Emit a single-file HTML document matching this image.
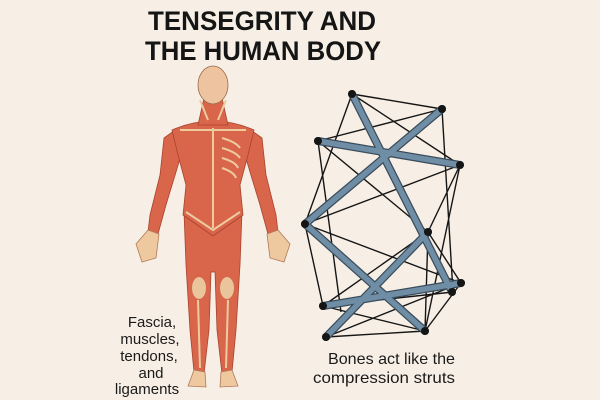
<!DOCTYPE html>
<html><head><meta charset="utf-8"><style>
html,body{margin:0;padding:0;background:#f7efe5;}
svg{display:block}
</style></head><body>
<svg width="600" height="400" viewBox="0 0 600 400" xmlns="http://www.w3.org/2000/svg">
<rect width="600" height="400" fill="#f7efe5"/>
<g font-family="Liberation Sans, sans-serif" font-weight="bold" font-size="27" fill="#151515" text-anchor="middle">
<text x="262" y="30" textLength="228" lengthAdjust="spacingAndGlyphs">TENSEGRITY AND</text>
<text x="263" y="60" textLength="236" lengthAdjust="spacingAndGlyphs">THE HUMAN BODY</text>
</g>
<!-- human figure -->
<g stroke="#a8442f" stroke-width="0.8">
<!-- legs -->
<path d="M184,212 L242,212 L240,265 L236,330 L232,372 L222,374 L217,330 L215,272 L211,272 L209,330 L204,374 L194,372 L190,330 L186,265 Z" fill="#d9654b"/>
<!-- arms -->
<path d="M178,128 L164,138 L160,175 L150,215 L148,232 L158,234 L166,205 L176,172 L184,145 Z" fill="#d9654b"/>
<path d="M248,128 L262,138 L266,175 L276,215 L278,232 L268,234 L260,205 L250,172 L242,145 Z" fill="#d9654b"/>
<!-- torso -->
<path d="M172,130 Q213,112 254,130 L248,155 L240,185 L243,215 L213,236 L183,215 L186,185 L178,155 Z" fill="#d9654b"/>
<!-- neck -->
<path d="M204,98 L222,98 L228,125 L198,125 Z" fill="#d9654b"/>
</g>
<!-- tan details -->
<g fill="none" stroke="#eccb9f" stroke-width="2">
<path d="M213,128 L213,228"/>
<path d="M180,130 L246,130"/>
<path d="M186,212 L213,230 L240,212"/>
<path d="M222,138 Q236,142 240,148 M222,148 Q236,152 240,158 M222,158 Q236,162 238,168 M222,168 Q234,172 236,178"/>
<path d="M198,300 L200,368 M228,300 L226,368"/>
<path d="M200,100 L208,120 M226,100 L218,120"/>
</g>
<!-- knees -->
<ellipse cx="199" cy="288" rx="7" ry="11" fill="#eac49a"/>
<ellipse cx="227" cy="288" rx="7" ry="11" fill="#eac49a"/>
<!-- hands and feet -->
<path d="M148,230 L136,244 L142,262 L156,258 L159,234 Z" fill="#eec9a0" stroke="#b07a58" stroke-width="0.8"/>
<path d="M278,230 L290,244 L284,262 L270,258 L267,234 Z" fill="#eec9a0" stroke="#b07a58" stroke-width="0.8"/>
<path d="M194,370 L188,386 L206,387 L205,372 Z" fill="#eec9a0" stroke="#b07a58" stroke-width="0.8"/>
<path d="M232,370 L238,386 L220,387 L221,372 Z" fill="#eec9a0" stroke="#b07a58" stroke-width="0.8"/>
<!-- head -->
<ellipse cx="213" cy="85" rx="15" ry="19" fill="#eec4a0" stroke="#9a6a4c" stroke-width="0.8"/>
<!-- tensegrity cables -->
<g stroke="#151515" stroke-width="1.4" fill="none">
<path d="M352,94 L442,109 M352,94 L305,224 M352,94 L460,165 M442,109 L318,141 M442,109 L453,292
M318,141 L341,312 M318,141 L428,232 M460,165 L305,224 M460,165 L428,232 M460,165 L425,331
M305,224 L461,283 M305,224 L323,306 M428,232 L461,283 M428,232 L323,306 M428,232 L425,331
M323,306 L425,331 M326,337 L425,331 M326,337 L461,283 M461,283 L425,331 M323,306 L453,292"/>
</g>
<!-- struts -->
<g stroke="#3a4d5c" stroke-width="8" stroke-linecap="round">
<path d="M352,94 L452,292 M442,109 L305,224 M318,141 L460,165 M305,224 L425,331 M428,232 L326,337 M323,306 L461,283"/>
</g>
<g stroke="#6f8ea6" stroke-width="5.5" stroke-linecap="round">
<path d="M352,94 L452,292 M442,109 L305,224 M318,141 L460,165 M305,224 L425,331 M428,232 L326,337 M323,306 L461,283"/>
</g>
<g fill="#151515">
<circle cx="352" cy="94" r="4"/><circle cx="442" cy="109" r="4"/><circle cx="318" cy="141" r="4"/>
<circle cx="460" cy="165" r="4"/><circle cx="305" cy="224" r="4"/><circle cx="428" cy="232" r="4"/>
<circle cx="461" cy="283" r="4"/><circle cx="452" cy="292" r="4"/><circle cx="323" cy="306" r="4"/>
<circle cx="326" cy="337" r="4"/><circle cx="425" cy="331" r="4"/>
</g>
<g font-family="Liberation Sans, sans-serif" font-size="15" fill="#1a1a1a" text-anchor="middle">
<text x="152" y="327">Fascia,</text>
<text x="150" y="344">muscles,</text>
<text x="149" y="361">tendons,</text>
<text x="151" y="378">and</text>
<text x="147" y="394">ligaments</text>
</g>
<g font-family="Liberation Sans, sans-serif" font-size="16" fill="#1a1a1a">
<text x="328" y="364" textLength="127" lengthAdjust="spacingAndGlyphs">Bones act like the</text>
<text x="313" y="383" textLength="142" lengthAdjust="spacingAndGlyphs">compression struts</text>
</g>
</svg>
</body></html>
